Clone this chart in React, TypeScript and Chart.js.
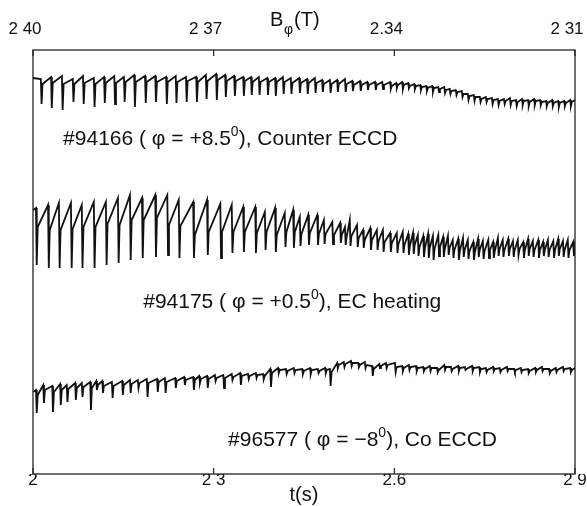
import React, { useEffect, useRef } from 'react';
import { Chart, registerables } from 'chart.js';

Chart.register(...registerables);

// ---- axes ----
const bottomTickValues = [2.0, 2.3, 2.6, 2.9];
const bottomTickLabels = ['2', '2 3', '2.6', '2 9'];
const topTickValues = [2.40, 2.37, 2.34, 2.31];
const topTickLabels = ['2 40', '2 37', '2.34', '2 31'];

// ---- trace 1: #94166 Counter ECCD (signal in a.u.) ----
const ctrEnds = [396, 374];
const ctrCrashT = [2.013, 2.030, 2.048, 2.066, 2.083, 2.101, 2.118, 2.135, 2.151, 2.168, 2.186, 2.203, 2.221, 2.237, 2.254, 2.271, 2.287, 2.304, 2.319, 2.334, 2.349, 2.362, 2.375, 2.389, 2.402, 2.415, 2.428, 2.442, 2.455, 2.468, 2.480, 2.493, 2.505, 2.518, 2.530, 2.543, 2.555, 2.568, 2.580, 2.593, 2.603, 2.613, 2.623, 2.633, 2.643, 2.653, 2.663, 2.673, 2.683, 2.692, 2.702, 2.712, 2.722, 2.732, 2.742, 2.752, 2.762, 2.772, 2.782, 2.792, 2.802, 2.812, 2.822, 2.832, 2.842, 2.852, 2.862, 2.872, 2.882, 2.892];
const ctrPre = [395, 397, 398, 395, 398, 396, 397, 398, 397, 399, 398, 398, 397, 398, 397, 397, 399, 400, 399, 398, 397, 397, 397, 396, 396, 397, 396, 396, 395, 396, 394, 394, 394, 395, 393, 393, 392, 392, 392, 392, 391, 392, 391, 390, 389, 388, 388, 387, 387, 385, 384, 383, 380, 379, 377, 377, 376, 375, 375, 376, 374, 375, 374, 375, 374, 373, 374, 373, 373, 374];
const ctrMin = [370, 366, 364, 372, 370, 367, 371, 370, 372, 367, 371, 372, 370, 371, 372, 372, 375, 374, 377, 378, 378, 379, 379, 379, 378, 380, 380, 381, 380, 381, 382, 381, 382, 382, 383, 383, 384, 384, 385, 385, 386, 385, 386, 385, 384, 383, 382, 382, 381, 380, 379, 377, 374, 373, 372, 372, 370, 369, 370, 369, 368, 369, 368, 369, 369, 368, 368, 367, 368, 368];
const ctrRec = [390, 391, 390, 390, 391, 390, 391, 391, 392, 392, 392, 392, 392, 392, 393, 392, 393, 394, 393, 393, 393, 392, 392, 392, 392, 392, 391, 391, 391, 391, 390, 390, 390, 390, 389, 389, 389, 389, 389, 388, 389, 389, 388, 388, 387, 386, 386, 385, 384, 383, 382, 380, 378, 377, 375, 375, 374, 373, 373, 373, 372, 373, 372, 373, 372, 371, 371, 371, 371, 372];

// ---- trace 2: #94175 EC heating ----
const ecEnds = [264, 226];
const ecCrashT = [2.005, 2.025, 2.043, 2.063, 2.081, 2.101, 2.121, 2.141, 2.161, 2.181, 2.203, 2.223, 2.242, 2.266, 2.289, 2.311, 2.330, 2.349, 2.369, 2.385, 2.402, 2.418, 2.432, 2.443, 2.457, 2.472, 2.483, 2.497, 2.510, 2.518, 2.526, 2.538, 2.548, 2.560, 2.571, 2.581, 2.593, 2.604, 2.614, 2.623, 2.631, 2.639, 2.648, 2.656, 2.664, 2.673, 2.681, 2.689, 2.697, 2.706, 2.714, 2.722, 2.731, 2.739, 2.747, 2.756, 2.764, 2.772, 2.780, 2.789, 2.797, 2.805, 2.814, 2.822, 2.830, 2.839, 2.847, 2.855, 2.864, 2.872, 2.880, 2.888, 2.897];
const ecPre = [266, 269, 271, 271, 269, 272, 272, 276, 279, 276, 279, 279, 274, 272, 274, 270, 269, 267, 267, 262, 266, 261, 264, 257, 259, 259, 254, 252, 251, 247, 254, 249, 244, 246, 244, 244, 241, 241, 242, 240, 241, 239, 238, 240, 238, 239, 237, 238, 234, 235, 236, 234, 232, 235, 233, 234, 232, 236, 234, 235, 233, 234, 232, 235, 233, 234, 232, 234, 233, 235, 233, 234, 232];
const ecMin = [209, 206, 206, 206, 206, 206, 209, 211, 214, 216, 217, 219, 216, 216, 219, 216, 221, 222, 221, 224, 222, 227, 226, 228, 229, 229, 230, 230, 231, 229, 228, 227, 226, 224, 224, 222, 222, 221, 221, 219, 220, 218, 217, 216, 214, 218, 217, 219, 216, 214, 217, 215, 214, 217, 215, 216, 216, 218, 217, 218, 217, 219, 216, 218, 217, 216, 218, 217, 216, 218, 217, 216, 218];
const ecRec = [247, 244, 244, 245, 247, 247, 250, 249, 254, 254, 256, 249, 248, 239, 242, 242, 242, 242, 241, 242, 239, 242, 242, 240, 241, 240, 240, 239, 239, 237, 238, 236, 234, 234, 233, 232, 231, 230, 229, 228, 229, 227, 226, 226, 225, 227, 225, 226, 224, 223, 224, 223, 222, 224, 223, 224, 223, 225, 224, 225, 224, 225, 224, 225, 224, 224, 224, 224, 224, 225, 224, 224, 224];

// ---- trace 3: #96577 Co ECCD ----
const coEnds = [82, 106];
const coCrashT = [2.005, 2.017, 2.032, 2.045, 2.056, 2.070, 2.081, 2.095, 2.105, 2.115, 2.131, 2.148, 2.161, 2.174, 2.189, 2.206, 2.219, 2.236, 2.251, 2.266, 2.276, 2.289, 2.302, 2.316, 2.330, 2.344, 2.357, 2.370, 2.382, 2.394, 2.407, 2.420, 2.433, 2.447, 2.460, 2.473, 2.485, 2.493, 2.505, 2.516, 2.528, 2.540, 2.551, 2.563, 2.575, 2.586, 2.601, 2.613, 2.624, 2.636, 2.648, 2.659, 2.671, 2.683, 2.694, 2.706, 2.717, 2.729, 2.741, 2.752, 2.764, 2.775, 2.787, 2.799, 2.810, 2.822, 2.834, 2.845, 2.857, 2.868, 2.880, 2.892];
const coPre = [84, 89, 88, 90, 89, 91, 91, 92, 93, 93, 92, 93, 94, 94, 95, 95, 96, 96, 97, 97, 98, 98, 99, 99, 100, 101, 100, 101, 100, 105, 106, 105, 106, 105, 106, 105, 106, 105, 111, 112, 113, 111, 112, 108, 110, 111, 111, 108, 109, 108, 107, 108, 106, 109, 107, 108, 107, 108, 107, 106, 107, 106, 107, 105, 106, 105, 106, 107, 105, 106, 107, 106];
const coMin = [61, 71, 62, 69, 72, 74, 77, 64, 84, 81, 76, 79, 81, 86, 77, 82, 81, 86, 89, 84, 91, 86, 93, 86, 94, 89, 95, 96, 95, 87, 101, 100, 101, 100, 100, 101, 101, 88, 106, 107, 108, 107, 106, 98, 106, 106, 102, 103, 104, 103, 103, 103, 102, 104, 103, 103, 104, 103, 102, 102, 103, 102, 103, 102, 102, 101, 102, 103, 101, 102, 103, 102];
const coRec = [79, 84, 82, 84, 85, 86, 87, 86, 89, 88, 88, 89, 90, 91, 91, 92, 92, 93, 94, 94, 95, 95, 96, 96, 97, 98, 98, 99, 98, 101, 104, 103, 104, 103, 104, 103, 104, 102, 109, 110, 111, 109, 109, 105, 108, 109, 107, 106, 107, 106, 105, 106, 104, 107, 105, 106, 105, 106, 105, 104, 105, 104, 105, 104, 104, 103, 104, 105, 103, 104, 105, 104];

const FONT = '"Liberation Sans", Arial, Helvetica, sans-serif';
const T0 = 2.0;
const T1 = 2.9;

function buildTrace(ends: number[], crashT: number[], pre: number[], min: number[], rec: number[]) {
  const pts: { x: number; y: number }[] = [{ x: T0, y: ends[0] }];
  for (let i = 0; i < crashT.length; i++) {
    pts.push({ x: crashT[i], y: pre[i] });
    pts.push({ x: crashT[i] + 0.0012, y: min[i] });
    pts.push({ x: crashT[i] + 0.0028, y: rec[i] });
  }
  pts.push({ x: T1, y: ends[1] });
  return pts;
}

type Part = [string, number, number];

const annotations: { t: number; v: number; parts: Part[] }[] = [
  { t: 2.050, v: 329, parts: [['#94166 ( \u03c6 = +8.5', 21, 0], ['0', 14, 9], ['), Counter ECCD', 21, 0]] },
  { t: 2.183, v: 166, parts: [['#94175 ( \u03c6 = +0.5', 21, 0], ['0', 14, 9], ['), EC heating', 21, 0]] },
  { t: 2.324, v: 28, parts: [['#96577 ( \u03c6 = \u22128', 21, 0], ['0', 14, 9], ['), Co ECCD', 21, 0]] },
];

const framePlugin = {
  id: 'frameAndText',
  afterDraw(chart: any) {
    const { ctx, chartArea } = chart;
    const xs = chart.scales.x;
    const xt = chart.scales.x2;
    const ys = chart.scales.y;
    ctx.save();
    ctx.strokeStyle = '#222';
    ctx.lineWidth = 1.3;
    ctx.strokeRect(chartArea.left, chartArea.top, chartArea.right - chartArea.left, chartArea.bottom - chartArea.top);
    ctx.lineWidth = 1.2;
    ctx.beginPath();
    for (const v of bottomTickValues) {
      const px = xs.getPixelForValue(v);
      ctx.moveTo(px, chartArea.bottom);
      ctx.lineTo(px, chartArea.bottom - 6);
    }
    for (const v of topTickValues) {
      const px = xt.getPixelForValue(v);
      ctx.moveTo(px, chartArea.top);
      ctx.lineTo(px, chartArea.top + 6);
    }
    ctx.stroke();

    ctx.fillStyle = '#111';
    ctx.textBaseline = 'alphabetic';
    ctx.textAlign = 'left';
    ctx.font = `20px ${FONT}`;
    ctx.fillText('B', 270, 26);
    ctx.font = `14px ${FONT}`;
    ctx.fillText('\u03c6', 284, 34);
    ctx.font = `20px ${FONT}`;
    ctx.fillText('(T)', 294, 26);
    ctx.textAlign = 'center';
    ctx.fillText('t(s)', 304, 501);
    ctx.textAlign = 'left';

    for (const a of annotations) {
      let cx = xs.getPixelForValue(a.t);
      const cy = ys.getPixelForValue(a.v);
      for (const [txt, size, rise] of a.parts) {
        ctx.font = `${size}px ${FONT}`;
        ctx.fillText(txt, cx, cy - rise);
        cx += ctx.measureText(txt).width;
      }
    }
    ctx.restore();
  },
};

export default function App() {
  const ref = useRef<HTMLCanvasElement | null>(null);
  useEffect(() => {
    if (!ref.current) return;
    const lineStyle = {
      borderColor: '#111',
      borderWidth: 1.8,
      pointRadius: 0,
      tension: 0,
      fill: false,
      xAxisID: 'x',
      yAxisID: 'y',
    };
    const chart = new Chart(ref.current, {
      type: 'line',
      data: {
        datasets: [
          { label: '#94166', data: buildTrace(ctrEnds, ctrCrashT, ctrPre, ctrMin, ctrRec), ...lineStyle },
          { label: '#94175', data: buildTrace(ecEnds, ecCrashT, ecPre, ecMin, ecRec), ...lineStyle },
          { label: '#96577', data: buildTrace(coEnds, coCrashT, coPre, coMin, coRec), ...lineStyle },
        ],
      },
      options: {
        responsive: false,
        animation: false,
        events: [],
        layout: { padding: { left: 33, right: 12, top: 0, bottom: 0 } },
        plugins: { legend: { display: false }, tooltip: { enabled: false } },
        scales: {
          x: {
            type: 'linear',
            position: 'bottom',
            min: T0,
            max: T1,
            grid: { display: false, drawTicks: false },
            border: { display: false },
            afterBuildTicks: (s: any) => {
              s.ticks = bottomTickValues.map((v) => ({ value: v }));
            },
            afterFit: (s: any) => {
              s.height = 32;
              s.paddingLeft = 0;
              s.paddingRight = 0;
            },
            ticks: {
              autoSkip: false,
              maxRotation: 0,
              padding: -2,
              color: '#111',
              font: { family: FONT, size: 17, lineHeight: 1 },
              callback: (_v: any, i: number) => bottomTickLabels[i],
            },
          },
          x2: {
            type: 'linear',
            position: 'top',
            min: 2.31,
            max: 2.40,
            reverse: true,
            grid: { display: false, drawTicks: false },
            border: { display: false },
            afterBuildTicks: (s: any) => {
              s.ticks = topTickValues.map((v) => ({ value: v }));
            },
            afterFit: (s: any) => {
              s.height = 50;
              s.paddingLeft = 0;
              s.paddingRight = 0;
            },
            ticks: {
              autoSkip: false,
              maxRotation: 0,
              padding: 12,
              labelOffset: -8,
              color: '#111',
              font: { family: FONT, size: 17, lineHeight: 1 },
              callback: (_v: any, i: number) => topTickLabels[i],
            },
          },
          y: { display: false, min: 0, max: 424 },
        },
      },
      plugins: [framePlugin],
    } as any);
    return () => chart.destroy();
  }, []);
  return (
    <div style={{ position: 'absolute', left: 0, top: 0, width: 587, height: 506, background: '#fff' }}>
      <canvas ref={ref} width={587} height={506} style={{ display: 'block', width: 587, height: 506 }} />
    </div>
  );
}
